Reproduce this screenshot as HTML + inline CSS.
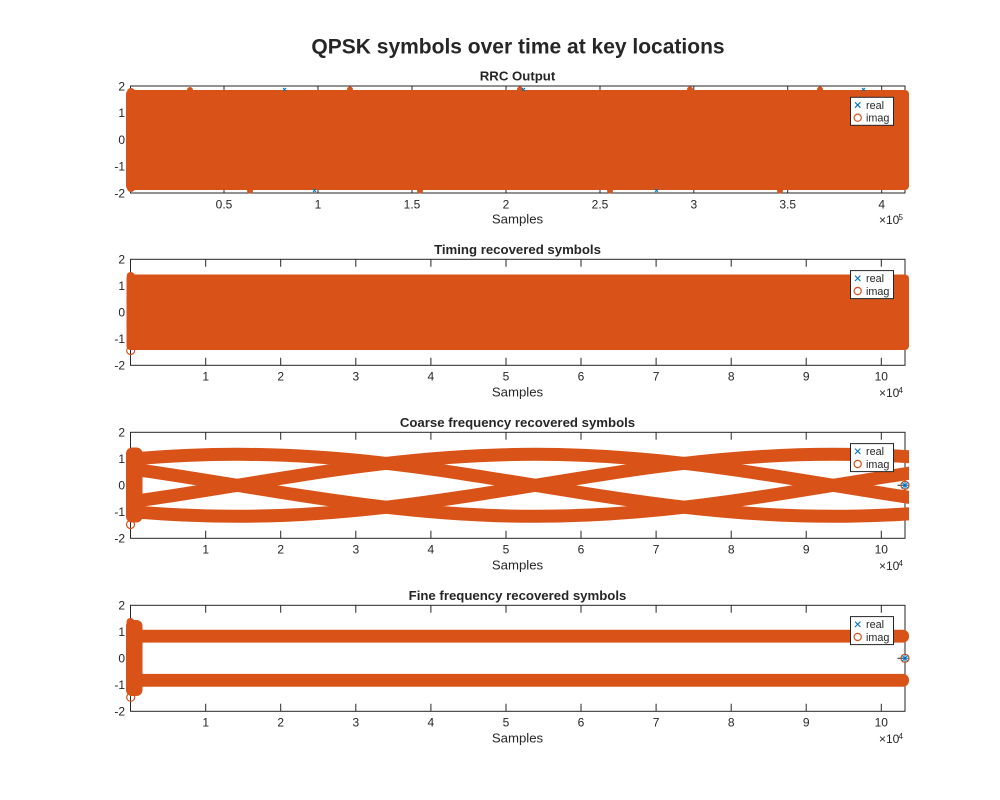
<!DOCTYPE html>
<html>
<head>
<meta charset="utf-8">
<style>
html,body{margin:0;padding:0;background:#fff;}
svg{display:block;}
text{font-family:"Liberation Sans",Arial,sans-serif;fill:#262626;}
.tk{font-size:12px;}
.yl{font-size:12px;text-anchor:end;}
.xl{font-size:12px;text-anchor:middle;}
.lab{font-size:13.2px;text-anchor:middle;}
.ttl{font-size:13.2px;font-weight:bold;text-anchor:middle;}
.lg{font-size:10.8px;}
</style>
</head>
<body>
<svg width="1000" height="800" viewBox="0 0 1000 800" xmlns="http://www.w3.org/2000/svg">
<defs>
<path id="w" d="M0,0 c97.2,-15.87 190.1,-31 298,-31 c107.9,0 200.8,15.13 298,31 c97.2,15.87 190.1,31 298,31 c107.9,0 200.8,-15.13 298,-31
 c97.2,-15.87 190.1,-31 298,-31 c107.9,0 200.8,15.13 298,31 c97.2,15.87 190.1,31 298,31 c107.9,0 200.8,-15.13 298,-31
 c97.2,-15.87 190.1,-31 298,-31 c107.9,0 200.8,15.13 298,31 c97.2,15.87 190.1,31 298,31 c107.9,0 200.8,-15.13 298,-31" fill="none"/>
<clipPath id="c3"><rect x="136" y="400" width="773" height="170"/></clipPath>
</defs>
<rect width="1000" height="800" fill="#fff"/>

<!-- Super title -->
<text x="518" y="53.5" style="font-size:21px;font-weight:bold;text-anchor:middle;">QPSK symbols over time at key locations</text>

<!-- ================= Plot 1 ================= -->
<g stroke="#262626" stroke-width="1" fill="none">
<rect x="130.5" y="86" width="774.5" height="107"/>
<path d="M224,193v-7.5M318,193v-7.5M412,193v-7.5M506,193v-7.5M600,193v-7.5M693.8,193v-7.5M787.7,193v-7.5M881.7,193v-7.5
M224,86v7.5M318,86v7.5M412,86v7.5M506,86v7.5M600,86v7.5M693.8,86v7.5M787.7,86v7.5M881.7,86v7.5
M130.5,112.75h7.5M130.5,139.5h7.5M130.5,166.25h7.5M905,112.75h-7.5M905,139.5h-7.5M905,166.25h-7.5"/>
</g>
<text class="ttl" x="517.5" y="80.5">RRC Output</text>
<g class="yl"><text class="yl" x="125" y="90.3">2</text><text class="yl" x="125" y="117">1</text><text class="yl" x="125" y="143.8">0</text><text class="yl" x="125" y="170.5">-1</text><text class="yl" x="125" y="197.3">-2</text></g>
<text class="xl" x="224" y="208.3">0.5</text><text class="xl" x="318" y="208.3">1</text><text class="xl" x="412" y="208.3">1.5</text><text class="xl" x="506" y="208.3">2</text><text class="xl" x="600" y="208.3">2.5</text><text class="xl" x="693.8" y="208.3">3</text><text class="xl" x="787.7" y="208.3">3.5</text><text class="xl" x="881.7" y="208.3">4</text>
<text class="lab" x="517.5" y="223.3">Samples</text>
<text class="tk" x="879" y="224">×10</text><text x="898.5" y="220" style="font-size:8px;">5</text>
<!-- data -->
<g fill="#D95319">
<rect x="126" y="90" width="783" height="100" rx="4"/>
<circle cx="131" cy="92" r="4"/><circle cx="190" cy="90" r="3"/><circle cx="350" cy="89.5" r="3"/><circle cx="520" cy="89.5" r="3"/><circle cx="690" cy="89.5" r="3"/><circle cx="820" cy="89.5" r="3"/>
<circle cx="131" cy="188" r="4"/><circle cx="250" cy="190.5" r="3"/><circle cx="420" cy="190.5" r="3"/><circle cx="610" cy="190.5" r="3"/><circle cx="780" cy="190.5" r="3"/>
</g>
<g stroke="#0072BD" stroke-width="1">
<path d="M283,88l3,3M286,88l-3,3M522,88l3,3M525,88l-3,3M655,189l3,3M658,189l-3,3M313,189l3,3M316,189l-3,3M862,88l3,3M865,88l-3,3"/>
</g>
<!-- legend 1 -->
<rect x="850.5" y="97.3" width="43" height="28" fill="#fff" stroke="#262626" stroke-width="1"/>
<path d="M855,102.3l5.4,5.4M860.4,102.3l-5.4,5.4" stroke="#0072BD" stroke-width="1.1"/>
<circle cx="857.7" cy="117.7" r="3.6" fill="none" stroke="#D95319" stroke-width="1.2"/>
<text class="lg" x="866" y="108.8">real</text><text class="lg" x="866" y="121.5">imag</text>

<!-- ================= Plot 2 ================= -->
<g stroke="#262626" stroke-width="1" fill="none">
<rect x="130.5" y="259.3" width="774.5" height="106"/>
<path d="M205.7,365.3v-7.5M280.7,365.3v-7.5M355.8,365.3v-7.5M430.9,365.3v-7.5M506,365.3v-7.5M581,365.3v-7.5M656.1,365.3v-7.5M731.2,365.3v-7.5M806.2,365.3v-7.5M881.3,365.3v-7.5
M205.7,259.3v7.5M280.7,259.3v7.5M355.8,259.3v7.5M430.9,259.3v7.5M506,259.3v7.5M581,259.3v7.5M656.1,259.3v7.5M731.2,259.3v7.5M806.2,259.3v7.5M881.3,259.3v7.5
M130.5,285.8h7.5M130.5,312.3h7.5M130.5,338.8h7.5M905,285.8h-7.5M905,312.3h-7.5M905,338.8h-7.5"/>
</g>
<text class="ttl" x="517.5" y="253.8">Timing recovered symbols</text>
<text class="yl" x="125" y="263.6">2</text><text class="yl" x="125" y="290.1">1</text><text class="yl" x="125" y="316.6">0</text><text class="yl" x="125" y="343.1">-1</text><text class="yl" x="125" y="369.6">-2</text>
<text class="xl" x="205.7" y="380.5">1</text><text class="xl" x="280.7" y="380.5">2</text><text class="xl" x="355.8" y="380.5">3</text><text class="xl" x="430.9" y="380.5">4</text><text class="xl" x="506" y="380.5">5</text><text class="xl" x="581" y="380.5">6</text><text class="xl" x="656.1" y="380.5">7</text><text class="xl" x="731.2" y="380.5">8</text><text class="xl" x="806.2" y="380.5">9</text><text class="xl" x="881.3" y="380.5">10</text>
<text class="lab" x="517.5" y="396.3">Samples</text>
<text class="tk" x="879" y="397">×10</text><text x="898.5" y="393" style="font-size:8px;">4</text>
<g fill="#D95319">
<rect x="126.5" y="274.5" width="782.5" height="75.5" rx="4"/>
<circle cx="130.7" cy="276" r="4"/>
</g>
<circle cx="130.7" cy="350.5" r="4" fill="none" stroke="#D95319" stroke-width="1.2"/>
<!-- legend 2 -->
<rect x="850.5" y="270.6" width="43" height="28" fill="#fff" stroke="#262626" stroke-width="1"/>
<path d="M855,275.6l5.4,5.4M860.4,275.6l-5.4,5.4" stroke="#0072BD" stroke-width="1.1"/>
<circle cx="857.7" cy="291" r="3.6" fill="none" stroke="#D95319" stroke-width="1.2"/>
<text class="lg" x="866" y="282.1">real</text><text class="lg" x="866" y="294.8">imag</text>

<!-- ================= Plot 3 ================= -->
<g stroke="#262626" stroke-width="1" fill="none">
<rect x="130.5" y="432.3" width="774.5" height="106"/>
<path d="M205.7,538.3v-7.5M280.7,538.3v-7.5M355.8,538.3v-7.5M430.9,538.3v-7.5M506,538.3v-7.5M581,538.3v-7.5M656.1,538.3v-7.5M731.2,538.3v-7.5M806.2,538.3v-7.5M881.3,538.3v-7.5
M205.7,432.3v7.5M280.7,432.3v7.5M355.8,432.3v7.5M430.9,432.3v7.5M506,432.3v7.5M581,432.3v7.5M656.1,432.3v7.5M731.2,432.3v7.5M806.2,432.3v7.5M881.3,432.3v7.5
M130.5,458.8h7.5M130.5,485.3h7.5M130.5,511.8h7.5M905,458.8h-7.5M905,485.3h-7.5M905,511.8h-7.5"/>
</g>
<text class="ttl" x="517.5" y="426.8">Coarse frequency recovered symbols</text>
<text class="yl" x="125" y="436.6">2</text><text class="yl" x="125" y="463.1">1</text><text class="yl" x="125" y="489.6">0</text><text class="yl" x="125" y="516.1">-1</text><text class="yl" x="125" y="542.6">-2</text>
<text class="xl" x="205.7" y="553.5">1</text><text class="xl" x="280.7" y="553.5">2</text><text class="xl" x="355.8" y="553.5">3</text><text class="xl" x="430.9" y="553.5">4</text><text class="xl" x="506" y="553.5">5</text><text class="xl" x="581" y="553.5">6</text><text class="xl" x="656.1" y="553.5">7</text><text class="xl" x="731.2" y="553.5">8</text><text class="xl" x="806.2" y="553.5">9</text><text class="xl" x="881.3" y="553.5">10</text>
<text class="lab" x="517.5" y="569.3">Samples</text>
<text class="tk" x="879" y="570">×10</text><text x="898.5" y="566" style="font-size:8px;">4</text>
<g clip-path="url(#c3)" stroke="#D95319" stroke-width="13">
<use href="#w" x="-954.8" y="485.3"/>
<use href="#w" x="-1252.8" y="485.3"/>
<use href="#w" x="-1550.8" y="485.3"/>
<use href="#w" x="-1848.8" y="485.3"/>
</g>
<rect x="126" y="447.5" width="16.5" height="75" rx="6" fill="#D95319"/>
<circle cx="130.5" cy="524.5" r="4" fill="none" stroke="#D95319" stroke-width="1.2"/>
<circle cx="905" cy="485.3" r="4" fill="none" stroke="#D95319" stroke-width="1.3"/>
<path d="M902,482.3l6,6M908,482.3l-6,6M905,481.5v7.6M901.2,485.3h7.6" stroke="#0072BD" stroke-width="1"/>
<!-- legend 3 -->
<rect x="850.5" y="443.6" width="43" height="28" fill="#fff" stroke="#262626" stroke-width="1"/>
<path d="M855,448.6l5.4,5.4M860.4,448.6l-5.4,5.4" stroke="#0072BD" stroke-width="1.1"/>
<circle cx="857.7" cy="464" r="3.6" fill="none" stroke="#D95319" stroke-width="1.2"/>
<text class="lg" x="866" y="455.1">real</text><text class="lg" x="866" y="467.8">imag</text>

<!-- ================= Plot 4 ================= -->
<g stroke="#262626" stroke-width="1" fill="none">
<rect x="130.5" y="605.3" width="774.5" height="106"/>
<path d="M205.7,711.3v-7.5M280.7,711.3v-7.5M355.8,711.3v-7.5M430.9,711.3v-7.5M506,711.3v-7.5M581,711.3v-7.5M656.1,711.3v-7.5M731.2,711.3v-7.5M806.2,711.3v-7.5M881.3,711.3v-7.5
M205.7,605.3v7.5M280.7,605.3v7.5M355.8,605.3v7.5M430.9,605.3v7.5M506,605.3v7.5M581,605.3v7.5M656.1,605.3v7.5M731.2,605.3v7.5M806.2,605.3v7.5M881.3,605.3v7.5
M130.5,631.8h7.5M130.5,658.3h7.5M130.5,684.8h7.5M905,631.8h-7.5M905,658.3h-7.5M905,684.8h-7.5"/>
</g>
<text class="ttl" x="517.5" y="599.8">Fine frequency recovered symbols</text>
<text class="yl" x="125" y="609.6">2</text><text class="yl" x="125" y="636.1">1</text><text class="yl" x="125" y="662.6">0</text><text class="yl" x="125" y="689.1">-1</text><text class="yl" x="125" y="715.6">-2</text>
<text class="xl" x="205.7" y="726.5">1</text><text class="xl" x="280.7" y="726.5">2</text><text class="xl" x="355.8" y="726.5">3</text><text class="xl" x="430.9" y="726.5">4</text><text class="xl" x="506" y="726.5">5</text><text class="xl" x="581" y="726.5">6</text><text class="xl" x="656.1" y="726.5">7</text><text class="xl" x="731.2" y="726.5">8</text><text class="xl" x="806.2" y="726.5">9</text><text class="xl" x="881.3" y="726.5">10</text>
<text class="lab" x="517.5" y="742.3">Samples</text>
<text class="tk" x="879" y="743">×10</text><text x="898.5" y="739" style="font-size:8px;">4</text>
<g fill="#D95319">
<rect x="132" y="629.8" width="777" height="12.8" rx="6"/>
<rect x="132" y="673.9" width="777" height="12.8" rx="6"/>
<rect x="126" y="620" width="16.5" height="76" rx="6"/>
<circle cx="130.5" cy="622" r="4"/>
</g>
<circle cx="130.7" cy="697.3" r="4" fill="none" stroke="#D95319" stroke-width="1.2"/>
<circle cx="905" cy="658.3" r="4" fill="none" stroke="#D95319" stroke-width="1.3"/>
<path d="M902,655.3l6,6M908,655.3l-6,6M905,654.5v7.6M901.2,658.3h7.6" stroke="#0072BD" stroke-width="1"/>
<!-- legend 4 -->
<rect x="850.5" y="616.6" width="43" height="28" fill="#fff" stroke="#262626" stroke-width="1"/>
<path d="M855,621.6l5.4,5.4M860.4,621.6l-5.4,5.4" stroke="#0072BD" stroke-width="1.1"/>
<circle cx="857.7" cy="637" r="3.6" fill="none" stroke="#D95319" stroke-width="1.2"/>
<text class="lg" x="866" y="628.1">real</text><text class="lg" x="866" y="640.8">imag</text>
</svg>
</body>
</html>
